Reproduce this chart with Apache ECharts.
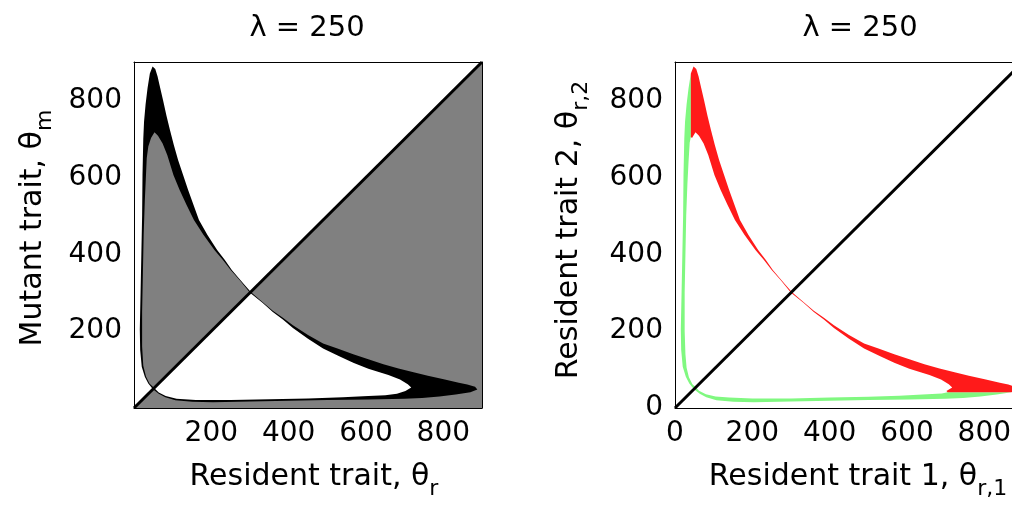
<!DOCTYPE html>
<html><head><meta charset="utf-8">
<script src="https://cdn.jsdelivr.net/npm/echarts@6/dist/echarts.min.js"></script>
<style>html,body{margin:0;padding:0;background:#fff}#c{width:1012px;height:505px}</style>
</head><body><div id="c"></div>
<script>
// ---- tick labels ----
const tickLeft = [200, 400, 600, 800];
const tickRight = [0, 200, 400, 600, 800];
const titles = ['λ = 250', 'λ = 250'];
// ---- diagonal (resident = mutant) ----
const diag = [[0, 0], [900, 900]];
// ---- region below the diagonal (mutant can invade) ----
const belowDiag = [[0, 0], [900, 0], [900, 900]];
// ---- upper-left lobe (above diagonal) ----
const ulOuterLeft = [[49,49],[37,64],[28,81],[20,107],[16,151],[15,204],[17,300],[19,400],[21,500],[22,606],[24,700],[26,745],[30,790],[35,832],[41,870],[48,888]];
const ulOuterRight = [[48,888],[55,882],[61,862],[66,840],[75,801],[84,760],[93,723],[103,684],[114,645],[127,606],[140,567],[154,528],[168,489],[190,450],[215,411],[235,385],[253,359],[275,333],[302,302]];
const ulInner = [[52,52],[40,64],[31,82],[24,110],[21,160],[21,250],[23,350],[25,450],[28,540],[31,606],[33,650],[37,680],[44,702],[53,717],[62,708],[74,688],[86,658],[102,606],[118,567],[136,528],[155,489],[180,450],[208,411],[230,385],[250,359],[273,333],[300,300]];
// ---- lower-right lobe (below diagonal) ----
const lrOuterBottom = [[49,49],[64,37],[81,28],[107,20],[151,16],[204,15],[300,17],[400,19],[500,21],[606,22],[700,24],[745,26],[790,30],[832,35],[870,41],[888,48]];
const lrOuterTop = [[888,48],[882,55],[862,61],[840,66],[801,75],[760,84],[723,93],[684,103],[645,114],[606,127],[567,140],[528,154],[489,168],[450,190],[411,215],[385,235],[359,253],[333,275],[302,302]];
const lrInner = [[52,52],[64,40],[82,31],[110,24],[160,21],[250,21],[350,23],[450,25],[540,28],[606,31],[650,33],[680,37],[702,44],[717,53],[708,62],[688,74],[658,86],[606,102],[567,118],[528,136],[489,155],[450,180],[411,208],[385,230],[359,250],[333,273],[300,300]];
// ---- right panel: inner edges of the green (coexistence) strips ----
const greenInnerLeft = [[41,870],[41,705],[38,690],[35,640],[32,580],[29,500],[27,400],[25,300],[25,200],[27,140],[30,105],[36,80],[45,62],[54,54]];
const greenInnerBottom = [[870,41],[705,41],[690,38],[640,35],[580,32],[500,29],[400,27],[300,25],[200,25],[140,27],[105,30],[80,36],[62,45],[54,54]];
const splitUL = [[41,870],[41,705]];
const splitLR = [[870,41],[705,41]];

// ---- build polygons ----
const ulBlack = ulOuterLeft.concat(ulOuterRight.slice(1));
const lrBlack = lrOuterBottom.concat(lrOuterTop.slice(1));
const greenLeft = ulOuterLeft.slice(0, 15).concat(greenInnerLeft.slice(1));
const redUpper = [splitUL[0]].concat(ulOuterRight, ulInner.slice(12).reverse(), [splitUL[1]]);
const greenBottom = lrOuterBottom.slice(0, 15).concat(greenInnerBottom.slice(1));
const redLower = [splitLR[0]].concat(lrOuterTop, lrInner.slice(12).reverse(), [splitLR[1]]);

const F = 'DejaVu Sans';
const GRAY = '#808080', RED = '#ff1a1a', GREEN = '#80f880';

function poly(idx, pts, color, z) {
  return {
    type: 'custom', xAxisIndex: idx, yAxisIndex: idx, data: pts, silent: true,
    animation: false, z: z || 2, encode: {x: 0, y: 1},
    renderItem: function (params, api) {
      if (params.dataIndex !== 0) return null;
      return {type: 'polygon', shape: {points: pts.map(p => api.coord(p))}, style: {fill: color}};
    }
  };
}
function diagLine(idx) {
  return {type: 'line', xAxisIndex: idx, yAxisIndex: idx, data: diag, symbol: 'none',
    lineStyle: {color: '#000', width: 3}, z: 6, animation: false, silent: true};
}
const richName = {
  a: {fontSize: 30, fontFamily: F, color: '#000', lineHeight: 46},
  s: {fontSize: 22, fontFamily: F, color: '#000', lineHeight: 22, verticalAlign: 'bottom'}
};
function mainAxis(gi, ticks, name, gap, pos, shift) {
  return {
    type: 'value', gridIndex: gi, min: 0, max: 900, interval: 200, position: pos, z: 10,
    axisLine: {show: true, onZero: false, lineStyle: {color: '#000', width: 1}},
    axisTick: {show: false}, splitLine: {show: false},
    axisLabel: {customValues: ticks, fontSize: 28, fontFamily: F, color: '#000', margin: 12},
    name: name, nameLocation: 'middle', nameGap: gap,
    nameTextStyle: {fontSize: 30, fontFamily: F, color: '#000', rich: richName, padding: [0, 0, 0, shift]}
  };
}
function frameAxis(gi, pos) {
  return {
    type: 'value', gridIndex: gi, min: 0, max: 900, position: pos, z: 10,
    axisLine: {show: true, onZero: false, lineStyle: {color: '#000', width: 1}},
    axisTick: {show: false}, splitLine: {show: false}, axisLabel: {show: false}
  };
}

const chart = echarts.init(document.getElementById('c'), null, {renderer: 'canvas'});
const yName0 = mainAxis(0, tickLeft, '{a|Mutant trait, θ}{s|m}', 78, 'left', 14);
yName0.nameRotate = 90;
const yName1 = mainAxis(1, tickRight, '{a|Resident trait 2, θ}{s|r,2}', 83, 'left', 10);
yName1.nameRotate = 90;
chart.setOption({
  animation: false,
  backgroundColor: '#fff',
  grid: [
    {left: 134, top: 62, width: 348, height: 346, outerBoundsMode: 'none', containLabel: false},
    {left: 675, top: 62, width: 348, height: 346, outerBoundsMode: 'none', containLabel: false}
  ],
  xAxis: [
    mainAxis(0, tickLeft, '{a|Resident trait, θ}{s|r}', 46, 'bottom', 12),
    mainAxis(1, tickRight, '{a|Resident trait 1, θ}{s|r,1}', 46, 'bottom', 18),
    frameAxis(0, 'top'), frameAxis(1, 'top')
  ],
  yAxis: [yName0, yName1, frameAxis(0, 'right'), frameAxis(1, 'right')],
  graphic: [
    {type: 'text', x: 307, y: 28, style: {text: titles[0], fontSize: 29, fontFamily: F, fill: '#000', align: 'center', verticalAlign: 'middle'}},
    {type: 'text', x: 860, y: 28, style: {text: titles[1], fontSize: 29, fontFamily: F, fill: '#000', align: 'center', verticalAlign: 'middle'}}
  ],
  series: [
    poly(0, belowDiag, GRAY, 1),
    poly(0, lrBlack, '#000', 2),
    poly(0, lrInner, '#fff', 3),
    poly(0, ulBlack, '#000', 2),
    poly(0, ulInner, GRAY, 3),
    diagLine(0),
    poly(1, greenLeft, GREEN, 2),
    poly(1, redUpper, RED, 2),
    poly(1, greenBottom, GREEN, 2),
    poly(1, redLower, RED, 2),
    diagLine(1)
  ]
});
</script></body></html>
